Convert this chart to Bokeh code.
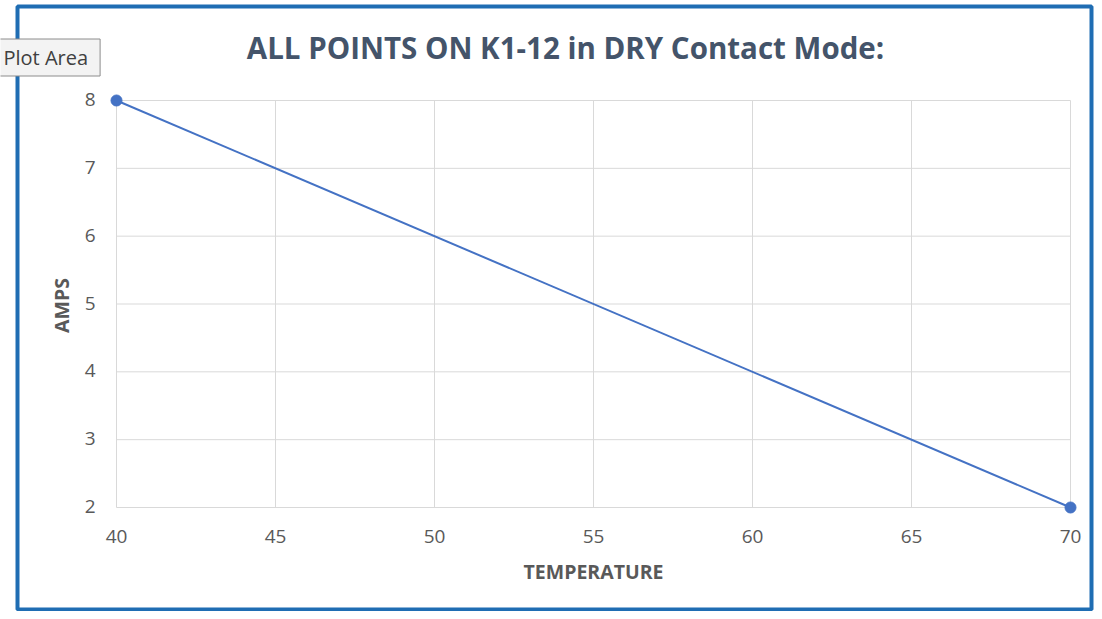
import math
from bokeh.plotting import figure
from bokeh.models import Range1d, Label, BoxAnnotation, ColumnDataSource
from bokeh.core.properties import value
from bokeh.embed import file_html
from bokeh.resources import INLINE

# ---- data ----
temperature = [40, 70]
amps = [8, 2]
x_ticks = [40, 45, 50, 55, 60, 65, 70]
y_ticks = [2, 3, 4, 5, 6, 7, 8]
x_tick_labels = ["40", "45", "50", "55", "60", "65", "70"]
y_tick_labels = ["2", "3", "4", "5", "6", "7", "8"]
title_text = "ALL POINTS ON K1-12 in DRY Contact Mode:"
x_label = "TEMPERATURE"
y_label = "AMPS"
tooltip_text = "Plot Area"

# ---- layout (pixels) ----
W, H = 1094, 611
X0_PX, X1_PX = 116, 1070   # where the first / last x tick sit
Y0_PX, Y1_PX = 507, 100    # where the first / last y tick sit (from top)
sx = (X1_PX - X0_PX) / (x_ticks[-1] - x_ticks[0])
sy = (Y0_PX - Y1_PX) / (y_ticks[-1] - y_ticks[0])
x_range = Range1d(x_ticks[0] - X0_PX / sx, x_ticks[-1] + (W - X1_PX) / sx)
y_range = Range1d(y_ticks[0] - (H - Y0_PX) / sy, y_ticks[-1] + Y1_PX / sy)

FONT = "Open Sans"
p = figure(width=W, height=H, output_backend="svg", toolbar_location=None,
           x_range=x_range, y_range=y_range, title=None,
           x_axis_location=None, y_axis_location=None, min_border=0)
p.outline_line_color = None
p.background_fill_color = "white"
p.border_fill_color = "white"
for g in list(p.grid):
    g.visible = False

# grid lines, spanning only the tick extent
GRID_COLOR = "#d9d9d9"
p.segment(x0=x_ticks, x1=x_ticks, y0=[y_ticks[0]] * len(x_ticks), y1=[y_ticks[-1]] * len(x_ticks),
          line_color=GRID_COLOR, line_width=1)
p.segment(x0=[x_ticks[0]] * len(y_ticks), x1=[x_ticks[-1]] * len(y_ticks), y0=y_ticks, y1=y_ticks,
          line_color=GRID_COLOR, line_width=1)

# tick labels
TICK_COLOR = "#595959"
xsrc = ColumnDataSource(dict(x=x_ticks, y=[y_ticks[0]] * len(x_ticks), t=x_tick_labels))
p.text(x="x", y="y", text="t", source=xsrc, y_offset=29, text_align="center",
       text_baseline="middle", text_font=value(FONT), text_font_size="19px", text_color=TICK_COLOR)
ysrc = ColumnDataSource(dict(x=[x_ticks[0]] * len(y_ticks), y=y_ticks, t=y_tick_labels))
p.text(x="x", y="y", text="t", source=ysrc, x_offset=-21, y_offset=-1, text_align="right",
       text_baseline="middle", text_font=value(FONT), text_font_size="19px", text_color=TICK_COLOR)

# series
p.line(temperature, amps, line_color="#4472c4", line_width=2)
p.scatter(temperature, amps, size=11, fill_color="#4472c4", line_color="#4472c4")

# titles
p.add_layout(Label(x=565, y=47, x_units="canvas", y_units="canvas", text=title_text,
                   text_font=FONT, text_font_style="bold", text_font_size="29.5px",
                   text_color="#44546a", text_align="center", text_baseline="middle"))
p.add_layout(Label(x=593, y=571, x_units="canvas", y_units="canvas", text=x_label,
                   text_font=FONT, text_font_style="bold", text_font_size="19.5px",
                   text_color=TICK_COLOR, text_align="center", text_baseline="middle"))
p.add_layout(Label(x=61, y=305, x_units="canvas", y_units="canvas", text=y_label, angle=math.pi / 2,
                   text_font=FONT, text_font_style="bold", text_font_size="19.5px",
                   text_color=TICK_COLOR, text_align="center", text_baseline="middle"))

# chart border
p.add_layout(BoxAnnotation(left=17, right=1091, top=6, bottom=609,
                           left_units="canvas", right_units="canvas",
                           top_units="canvas", bottom_units="canvas",
                           fill_alpha=0, line_color="#1f6db3", line_alpha=1.0, line_width=4))

# tooltip
p.add_layout(Label(x=-9, y=57, x_units="canvas", y_units="canvas", text=tooltip_text,
                   text_font=FONT, text_font_size="20px", text_color="#404040",
                   text_align="left", text_baseline="middle",
                   background_fill_color="#f3f3f3", border_line_color="#8c8c8c",
                   border_line_width=1, padding=(12, 5)))

open("out.html", "w").write(file_html(p, INLINE))
